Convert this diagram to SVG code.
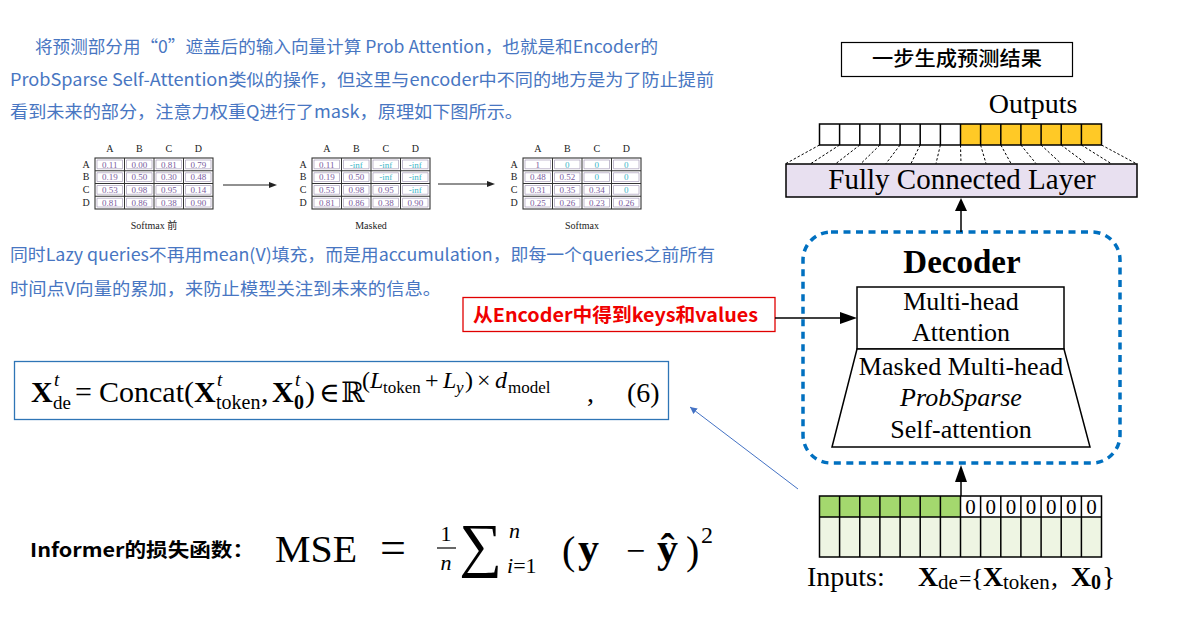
<svg xmlns="http://www.w3.org/2000/svg" xmlns:xlink="http://www.w3.org/1999/xlink" width="1192" height="636" viewBox="0 0 1192 636">
<style>
.note{font-family:"Noto Sans CJK SC","Noto Sans",sans-serif;font-size:17px;fill:#4876C2}
.ser{font-family:"Liberation Serif","DejaVu Serif",serif;fill:#000}
.mh{font-family:"Liberation Serif",serif;font-size:10px;fill:#222;text-anchor:middle}
.mv{font-family:"Liberation Serif",serif;font-size:9px;fill:#7A5C9E;text-anchor:middle}
.mi{font-family:"Liberation Serif",serif;font-size:9px;fill:#3DB6C8;text-anchor:middle}
.cap{font-family:"Liberation Serif","Noto Sans CJK SC",serif;font-size:10px;fill:#222;text-anchor:middle}
.blk{stroke:#000;stroke-width:1.5;fill:none}
.lbl{font-family:"Liberation Serif",serif;font-size:26px;fill:#000;text-anchor:middle}
</style>
<defs>
<g id="grid">
<rect x="0" y="0" width="118" height="51" fill="#fff" stroke="#333" stroke-width="1.1"/>
<path d="M29.5 0V51M59 0V51M88.5 0V51M0 12.75H118M0 25.5H118M0 38.25H118" stroke="#333" stroke-width="1"/>
<path d="M2 2h25.5v8.75h-25.5zM31.5 2h25.5v8.75h-25.5zM61 2h25.5v8.75h-25.5zM90.5 2h25.5v8.75h-25.5zM2 14.75h25.5v8.75h-25.5zM31.5 14.75h25.5v8.75h-25.5zM61 14.75h25.5v8.75h-25.5zM90.5 14.75h25.5v8.75h-25.5zM2 27.5h25.5v8.75h-25.5zM31.5 27.5h25.5v8.75h-25.5zM61 27.5h25.5v8.75h-25.5zM90.5 27.5h25.5v8.75h-25.5zM2 40.25h25.5v8.75h-25.5zM31.5 40.25h25.5v8.75h-25.5zM61 40.25h25.5v8.75h-25.5zM90.5 40.25h25.5v8.75h-25.5z" stroke="#9b8fb0" stroke-width="0.6" fill="none"/>
<text class="mh" x="14.75" y="-6">A</text><text class="mh" x="44.25" y="-6">B</text><text class="mh" x="73.75" y="-6">C</text><text class="mh" x="103.25" y="-6">D</text>
<text class="mh" x="-9" y="9.6">A</text><text class="mh" x="-9" y="22.3">B</text><text class="mh" x="-9" y="35.1">C</text><text class="mh" x="-9" y="47.9">D</text>
</g>
<marker id="ah" viewBox="0 0 10 10" refX="10" refY="5" markerWidth="7" markerHeight="7" orient="auto" markerUnits="userSpaceOnUse"><path d="M0 0L10 5L0 10z" fill="#4472C4"/></marker>
</defs>

<g id="intro-text">
<text class="note" x="35" y="53" textLength="623" lengthAdjust="spacingAndGlyphs">将预测部分用“0”遮盖后的输入向量计算 Prob Attention，也就是和Encoder的</text>
<text class="note" x="10" y="86" textLength="704" lengthAdjust="spacingAndGlyphs">ProbSparse Self-Attention类似的操作，但这里与encoder中不同的地方是为了防止提前</text>
<text class="note" x="10" y="118" textLength="513" lengthAdjust="spacingAndGlyphs">看到未来的部分，注意力权重Q进行了mask，原理如下图所示。</text>
<text class="note" x="10" y="261" textLength="705" lengthAdjust="spacingAndGlyphs">同时Lazy queries不再用mean(V)填充，而是用accumulation，即每一个queries之前所有</text>
<text class="note" x="10" y="295" textLength="431" lengthAdjust="spacingAndGlyphs">时间点V向量的累加，来防止模型关注到未来的信息。</text>
</g>

<g id="matrix-before">
<use xlink:href="#grid" href="#grid" transform="translate(95,158)"/>
<g transform="translate(95,158)">
<text class="mv" x="14.75" y="9.6">0.11</text><text class="mv" x="44.25" y="9.6">0.00</text><text class="mv" x="73.75" y="9.6">0.81</text><text class="mv" x="103.25" y="9.6">0.79</text>
<text class="mv" x="14.75" y="22.3">0.19</text><text class="mv" x="44.25" y="22.3">0.50</text><text class="mv" x="73.75" y="22.3">0.30</text><text class="mv" x="103.25" y="22.3">0.48</text>
<text class="mv" x="14.75" y="35.1">0.53</text><text class="mv" x="44.25" y="35.1">0.98</text><text class="mv" x="73.75" y="35.1">0.95</text><text class="mv" x="103.25" y="35.1">0.14</text>
<text class="mv" x="14.75" y="47.9">0.81</text><text class="mv" x="44.25" y="47.9">0.86</text><text class="mv" x="73.75" y="47.9">0.38</text><text class="mv" x="103.25" y="47.9">0.90</text>
</g>
<text class="cap" x="154" y="229">Softmax 前</text>
</g>

<g id="matrix-masked">
<use xlink:href="#grid" href="#grid" transform="translate(312,158)"/>
<g transform="translate(312,158)">
<text class="mv" x="14.75" y="9.6">0.11</text><text class="mi" x="44.25" y="9.6">-inf</text><text class="mi" x="73.75" y="9.6">-inf</text><text class="mi" x="103.25" y="9.6">-inf</text>
<text class="mv" x="14.75" y="22.3">0.19</text><text class="mv" x="44.25" y="22.3">0.50</text><text class="mi" x="73.75" y="22.3">-inf</text><text class="mi" x="103.25" y="22.3">-inf</text>
<text class="mv" x="14.75" y="35.1">0.53</text><text class="mv" x="44.25" y="35.1">0.98</text><text class="mv" x="73.75" y="35.1">0.95</text><text class="mi" x="103.25" y="35.1">-inf</text>
<text class="mv" x="14.75" y="47.9">0.81</text><text class="mv" x="44.25" y="47.9">0.86</text><text class="mv" x="73.75" y="47.9">0.38</text><text class="mv" x="103.25" y="47.9">0.90</text>
</g>
<text class="cap" x="371" y="229">Masked</text>
</g>

<g id="matrix-softmax">
<use xlink:href="#grid" href="#grid" transform="translate(523,158)"/>
<g transform="translate(523,158)">
<text class="mv" x="14.75" y="9.6">1</text><text class="mi" x="44.25" y="9.6">0</text><text class="mi" x="73.75" y="9.6">0</text><text class="mi" x="103.25" y="9.6">0</text>
<text class="mv" x="14.75" y="22.3">0.48</text><text class="mv" x="44.25" y="22.3">0.52</text><text class="mi" x="73.75" y="22.3">0</text><text class="mi" x="103.25" y="22.3">0</text>
<text class="mv" x="14.75" y="35.1">0.31</text><text class="mv" x="44.25" y="35.1">0.35</text><text class="mv" x="73.75" y="35.1">0.34</text><text class="mi" x="103.25" y="35.1">0</text>
<text class="mv" x="14.75" y="47.9">0.25</text><text class="mv" x="44.25" y="47.9">0.26</text><text class="mv" x="73.75" y="47.9">0.23</text><text class="mv" x="103.25" y="47.9">0.26</text>
</g>
<text class="cap" x="582" y="229">Softmax</text>
</g>

<g id="formula-box">
<rect x="14.5" y="361.5" width="654" height="58" fill="#fff" stroke="#2E75B6" stroke-width="1.3"/>
<text class="ser" x="31" y="402" font-size="30" font-weight="bold">X</text>
<text class="ser" x="54" y="386" font-size="19" font-style="italic">t</text>
<text class="ser" x="53" y="409" font-size="19">de</text>
<text class="ser" x="75" y="402" font-size="30">=</text>
<text class="ser" x="99" y="402" font-size="30">Concat(</text>
<text class="ser" x="194" y="402" font-size="30" font-weight="bold">X</text>
<text class="ser" x="217" y="386" font-size="19" font-style="italic">t</text>
<text class="ser" x="216" y="409" font-size="20">token</text>
<text class="ser" x="261" y="402" font-size="30">,</text>
<text class="ser" x="272" y="402" font-size="30" font-weight="bold">X</text>
<text class="ser" x="295" y="386" font-size="19" font-style="italic">t</text>
<text class="ser" x="294" y="409" font-size="20" font-weight="bold">0</text>
<text class="ser" x="305" y="402" font-size="30">)</text>
<text class="ser" x="319" y="402" font-size="28">∈</text>
<text class="ser" x="341" y="402" font-size="28">ℝ</text>
<text class="ser" y="388" font-size="24"><tspan x="362">(</tspan><tspan x="370" font-style="italic">L</tspan><tspan x="383" font-size="17" dy="5">token</tspan><tspan x="425" dy="-5">+</tspan><tspan x="443" font-style="italic">L</tspan><tspan x="456" font-size="17" font-style="italic" dy="5">y</tspan><tspan x="465" dy="-5">)</tspan><tspan x="477">×</tspan><tspan x="495" font-style="italic">d</tspan><tspan x="508" font-size="17" dy="5">model</tspan></text>
<text class="ser" x="587" y="402" font-size="28">,</text>
<text class="ser" x="627" y="402" font-size="28">(6)</text>
</g>

<g id="loss">
<text x="30" y="557" font-family="'Noto Sans CJK SC','Noto Sans',sans-serif" font-size="19" font-weight="bold" fill="#000" textLength="224" lengthAdjust="spacingAndGlyphs">Informer的损失函数：</text>
<text class="ser" x="275" y="562" font-size="38" textLength="82" lengthAdjust="spacingAndGlyphs">MSE</text>
<text class="ser" x="380" y="563" font-size="46">=</text>
<text class="ser" x="446" y="541" font-size="22" text-anchor="middle">1</text>
<line x1="437" y1="548" x2="456" y2="548" stroke="#000" stroke-width="1.2"/>
<text class="ser" x="446" y="570" font-size="22" font-style="italic" text-anchor="middle">n</text>
<text class="ser" x="459" y="565" font-size="60">∑</text>
<text class="ser" x="509" y="538" font-size="22" font-style="italic">n</text>
<text class="ser" x="507" y="573" font-size="22"><tspan font-style="italic">i</tspan>=1</text>
<text class="ser" x="562" y="564" font-size="40">(</text>
<text class="ser" x="578" y="562" font-size="42" font-weight="bold">y</text>
<text class="ser" x="626" y="562" font-size="34">−</text>
<text class="ser" x="657" y="562" font-size="42" font-weight="bold">ŷ</text>
<text class="ser" x="686" y="564" font-size="40">)</text>
<text class="ser" x="701" y="543" font-size="24">2</text>
</g>

<g id="result-box">
<rect x="841.5" y="42.5" width="231" height="34" fill="#fff" stroke="#000" stroke-width="1.2"/>
<text x="872" y="66" font-family="'Noto Sans CJK SC',sans-serif" font-size="20" font-weight="500" fill="#000" textLength="170" lengthAdjust="spacingAndGlyphs">一步生成预测结果</text>
</g>

<g id="outputs">
<text class="ser" x="1033" y="113" font-size="28" text-anchor="middle">Outputs</text>
<rect x="960.5" y="124" width="141" height="21" fill="#FFC926"/>
<rect x="819.5" y="124" width="282" height="21" class="blk"/>
<path d="M839.6 124V145M859.8 124V145M879.9 124V145M900.1 124V145M920.2 124V145M940.4 124V145M960.5 124V145M980.6 124V145M1000.8 124V145M1020.9 124V145M1041.1 124V145M1061.2 124V145M1081.4 124V145" class="blk"/>
<path d="M819.5 145L786 163.5M839.6 145L811 163.5M859.8 145L836 163.5M879.9 145L861 163.5M900.1 145L886 163.5M920.2 145L911 163.5M940.4 145L936 163.5M960.5 145L961 163.5M980.6 145L986 163.5M1000.8 145L1011 163.5M1020.9 145L1036 163.5M1041.1 145L1061 163.5M1061.2 145L1086 163.5M1081.4 145L1111 163.5M1101.5 145L1136 163.5" stroke="#000" stroke-width="1" stroke-dasharray="2.5 2" fill="none"/>
</g>

<g id="fc-layer">
<rect x="786" y="164" width="351" height="33" fill="#E8E0F0" stroke="#000" stroke-width="1.5"/>
<text class="ser" x="962" y="189" font-size="29" text-anchor="middle">Fully Connected Layer</text>
</g>

<g id="decoder">
<rect x="803" y="232" width="317" height="231" rx="28" ry="28" fill="none" stroke="#0070C0" stroke-width="3.5" stroke-dasharray="7 5.5"/>
<text class="ser" x="962" y="273" font-size="33" font-weight="bold" text-anchor="middle">Decoder</text>
</g>

<g id="multihead">
<rect x="857" y="287" width="207" height="62" fill="#fff" stroke="#000" stroke-width="1.5"/>
<text class="lbl" x="961" y="310">Multi-head</text>
<text class="lbl" x="961" y="341">Attention</text>
</g>

<g id="masked-attention">
<path d="M857 349H1064L1090 447H832Z" fill="#fff" stroke="#000" stroke-width="1.5"/>
<text class="lbl" x="961" y="375">Masked Multi-head</text>
<text class="lbl" x="961" y="406" font-style="italic">ProbSparse</text>
<text class="lbl" x="961" y="438">Self-attention</text>
</g>

<g id="encoder-note">
<rect x="463" y="297.5" width="312" height="34" fill="#fff" stroke="#E00000" stroke-width="1.3"/>
<text x="473" y="322" font-family="'Noto Sans CJK SC','Noto Sans',sans-serif" font-size="19" font-weight="bold" fill="#F00000" textLength="285" lengthAdjust="spacingAndGlyphs">从Encoder中得到keys和values</text>
</g>

<g id="inputs">
<rect x="819.5" y="517" width="282" height="40" fill="#EEF5E3"/>
<rect x="819.5" y="496" width="141" height="21" fill="#A4D86E"/>
<rect x="960.5" y="496" width="141" height="21" fill="#fff"/>
<rect x="819.5" y="496" width="282" height="61" class="blk"/>
<path d="M819.5 517H1101.5M839.6 496V557M859.8 496V557M879.9 496V557M900.1 496V557M920.2 496V557M940.4 496V557M960.5 496V557M980.6 496V557M1000.8 496V557M1020.9 496V557M1041.1 496V557M1061.2 496V557M1081.4 496V557" class="blk"/>
<g class="ser" font-size="21" text-anchor="middle">
<text x="970.6" y="514">0</text><text x="990.7" y="514">0</text><text x="1010.9" y="514">0</text><text x="1031" y="514">0</text><text x="1051.2" y="514">0</text><text x="1071.3" y="514">0</text><text x="1091.5" y="514">0</text>
</g>
<text class="ser" x="807" y="586" font-size="28">Inputs:</text>
<text class="ser" y="586" font-size="28"><tspan x="918" font-weight="bold">X</tspan><tspan x="938" font-size="21" dy="3">de</tspan><tspan x="959" font-size="22" dy="-3">=</tspan><tspan x="971" font-size="26">{</tspan><tspan x="983" font-weight="bold">X</tspan><tspan x="1003" font-size="21" dy="3">token</tspan><tspan x="1051" dy="-3">,</tspan><tspan x="1071" font-weight="bold">X</tspan><tspan x="1091" font-size="20" font-weight="bold" dy="3">0</tspan><tspan x="1102" dy="-3">}</tspan></text>
</g>

<g id="connectors">
<line x1="961" y1="232" x2="961" y2="208" stroke="#000" stroke-width="1.5"/>
<path d="M961 198L955 211H967Z" fill="#000"/>
<line x1="961" y1="496" x2="961" y2="478" stroke="#000" stroke-width="1.5"/>
<path d="M961 465L955 482H967Z" fill="#000"/>
<line x1="775" y1="318" x2="845" y2="318" stroke="#000" stroke-width="1.5"/>
<path d="M857 318L840 312V324Z" fill="#000"/>
<line x1="223" y1="185" x2="270" y2="185" stroke="#222" stroke-width="1"/>
<path d="M277 185L269 182V188Z" fill="#222"/>
<line x1="438" y1="184" x2="488" y2="184" stroke="#222" stroke-width="1"/>
<path d="M495 184L487 181V187Z" fill="#222"/>
<line x1="798" y1="489" x2="690" y2="407" stroke="#4472C4" stroke-width="1" marker-end="url(#ah)"/>
</g>
</svg>
